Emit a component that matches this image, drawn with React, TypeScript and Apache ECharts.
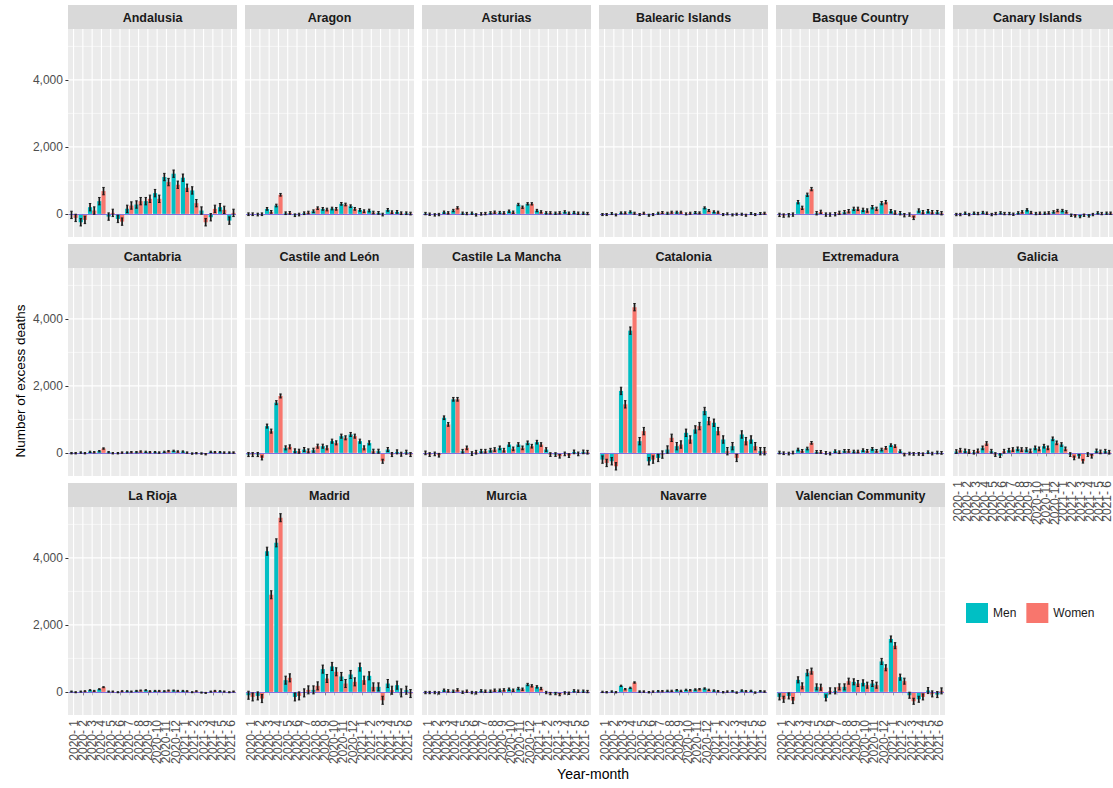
import React, { useEffect, useRef } from "react";
import * as echarts from "echarts";

// ---------- data ----------
const months = [
  "2020- 1", "2020- 2", "2020- 3", "2020- 4", "2020- 5", "2020- 6",
  "2020- 7", "2020- 8", "2020- 9", "2020-10", "2020-11", "2020-12",
  "2021- 1", "2021- 2", "2021- 3", "2021- 4", "2021- 5", "2021- 6",
];

const regions = [
  "Andalusia", "Aragon", "Asturias", "Balearic Islands", "Basque Country", "Canary Islands",
  "Cantabria", "Castile and León", "Castile La Mancha", "Catalonia", "Extremadura", "Galicia",
  "La Rioja", "Madrid", "Murcia", "Navarre", "Valencian Community",
];

const andalusiaMen = [-30, -250, 200, 380, -80, -150, 150, 280, 380, 620, 1100, 1200, 1080, 700, 100, -100, 200, -200];
const andalusiaWomen = [-120, -180, 100, 680, 30, -230, 250, 380, 450, 450, 950, 870, 780, 320, -250, 150, 120, 30];
const aragonMen = [-10, -20, 150, 250, 20, -40, 20, 80, 150, 160, 300, 230, 120, 100, 30, 120, 60, 20];
const aragonWomen = [-10, -10, 60, 570, 30, -20, 40, 170, 130, 150, 280, 150, 80, 40, -20, 50, 20, 10];
const asturiasMen = [10, -30, 50, 100, 20, 20, 0, 30, 40, 80, 280, 300, 100, 30, 20, 60, 40, 20];
const asturiasWomen = [-10, -20, 30, 180, 10, -30, 10, 50, 30, 50, 200, 300, 60, 30, 30, 20, 20, 10];
const balearicMen = [-20, 10, 30, 60, -20, -40, 20, 20, 50, 0, 40, 180, 60, -20, -30, -10, 10, 10];
const balearicWomen = [-20, -30, 30, 20, 20, -20, 40, 50, 50, 20, 30, 100, 50, 0, -10, -40, -20, 20];
const basqueMen = [-30, -40, 350, 570, 20, -20, -10, 50, 150, 120, 200, 320, 80, 20, -20, 100, 80, 50];
const basqueWomen = [-50, -20, 180, 740, 60, -20, 30, 80, 150, 100, 150, 350, 40, -40, -120, 50, 50, 20];
const canaryMen = [-20, 20, 20, 40, -20, 30, 10, 30, 120, 10, 20, 60, 100, -40, -80, -60, 30, 20];
const canaryWomen = [-20, -20, 10, 20, 10, 10, -10, 60, 40, 20, 30, 100, 60, -60, -40, -20, 10, 20];
const cantabriaMen = [-10, 10, 30, 50, 20, -10, 10, 20, 30, 20, 30, 60, 40, -20, -20, 30, 20, 10];
const cantabriaWomen = [-10, -10, 20, 130, -10, 10, 20, 40, 20, 10, 50, 40, 10, -10, -40, 20, 10, 10];
const castileLeonMen = [-50, -50, 800, 1500, 150, 60, 100, 80, 200, 350, 500, 550, 350, 300, 50, 100, 30, 20];
const castileLeonWomen = [-50, -150, 650, 1700, 180, 50, 60, 200, 150, 300, 450, 500, 150, 50, -250, -50, -40, -50];
const castileManchaMen = [0, -30, 1050, 1600, 50, -20, 50, 80, 150, 250, 250, 300, 320, 100, -50, -30, 30, 30];
const castileManchaWomen = [-50, -70, 850, 1600, 150, 20, 50, 100, 80, 120, 150, 200, 250, -50, -100, -80, -30, 20];
const cataloniaMen = [-200, -250, 1850, 3650, 350, -250, -150, 100, 200, 600, 700, 1250, 900, 400, 200, 550, 400, 50];
const cataloniaWomen = [-300, -400, 1450, 4350, 650, -200, -50, 450, 250, 400, 800, 950, 650, 50, -150, 350, 200, 50];
const extremaduraMen = [10, -20, 100, 130, 30, 0, 50, 60, 40, 80, 120, 100, 230, 50, -20, -30, 20, 10];
const extremaduraWomen = [-10, 10, 60, 300, 30, -20, 20, 60, 40, 60, 60, 150, 200, -50, -30, -40, -20, 0];
const galiciaMen = [40, 60, 20, 150, 50, -80, 80, 120, 100, 150, 200, 420, 250, -50, -100, -50, 60, 50];
const galiciaWomen = [80, 40, 60, 280, -50, 50, 100, 100, 60, 120, 150, 300, 120, -150, -250, -100, 30, 20];
const laRiojaMen = [10, 10, 50, 80, 10, -10, 20, 30, 50, 30, 20, 40, 30, -10, -20, 10, 20, -10];
const laRiojaWomen = [-10, 20, 30, 140, 10, 20, 10, 40, 20, 30, 40, 30, 20, 20, -30, 30, 10, 10];
const madridMen = [-100, -120, 4200, 4450, 350, -150, -30, 60, 680, 760, 460, 520, 740, 480, 150, 250, 200, 50];
const madridWomen = [-150, -200, 2900, 5200, 420, -120, 60, 180, 400, 600, 250, 300, 350, 150, -250, 50, -30, -50];
const murciaMen = [-20, -20, 50, 20, -10, -20, 30, 20, 50, 80, 100, 220, 150, -20, -50, -30, 30, 20];
const murciaWomen = [-20, -30, 30, 60, 20, -30, 20, 50, 60, 50, 80, 180, 100, -50, -80, -40, 20, 10];
const navarreMen = [0, 10, 180, 120, 10, -10, 20, 30, 50, 60, 70, 100, 40, -10, 20, 40, 30, 20];
const navarreWomen = [-10, -10, 80, 280, 10, 10, 20, 30, 30, 50, 80, 60, 20, 10, -20, 20, -20, 10];
const valenciaMen = [-150, -120, 360, 570, 150, -180, 30, 150, 300, 270, 250, 910, 1580, 440, -100, -220, 40, -80];
const valenciaWomen = [-220, -260, 180, 620, 140, 30, 150, 320, 250, 200, 200, 720, 1380, 320, -280, -150, -60, 30];

// half-width of the confidence interval drawn as error bars, per region
const errorHalfWidth = [110, 40, 35, 30, 50, 35, 20, 60, 55, 110, 40, 55, 15, 120, 35, 20, 90];

const yTickValues = [0, 2000, 4000];
const yMinorValues = [1000, 3000, 5000];
const legendLabels = ["Men", "Women"];

const menByRegion = [
  andalusiaMen, aragonMen, asturiasMen, balearicMen, basqueMen, canaryMen,
  cantabriaMen, castileLeonMen, castileManchaMen, cataloniaMen, extremaduraMen, galiciaMen,
  laRiojaMen, madridMen, murciaMen, navarreMen, valenciaMen,
];
const womenByRegion = [
  andalusiaWomen, aragonWomen, asturiasWomen, balearicWomen, basqueWomen, canaryWomen,
  cantabriaWomen, castileLeonWomen, castileManchaWomen, cataloniaWomen, extremaduraWomen, galiciaWomen,
  laRiojaWomen, madridWomen, murciaWomen, navarreWomen, valenciaWomen,
];

// ---------- style / layout ----------
const MEN_COLOR = "#00BFC4";
const WOMEN_COLOR = "#F8766D";
const ZERO_COLOR = "#8470DD";
const FONT = "'Liberation Sans', Arial, Helvetica, sans-serif";
const PANEL_W = 169;
const PANEL_H = 208;
const COL_STEP = 177;
const LEFT0 = 68;
const ROW_TOPS = [29, 268, 507];
const STRIP_H = 24;
const Y_MIN = -690;
const Y_MAX = 5520;
const NCOL = 6;

function buildOption() {
  const n = months.length;
  const unit = PANEL_W / (n - 1 + 1.2);
  const grids: any[] = [];
  const xAxes: any[] = [];
  const yAxes: any[] = [];
  const series: any[] = [];
  const graphics: any[] = [];

  regions.forEach((name, p) => {
    const r = Math.floor(p / NCOL);
    const c = p % NCOL;
    const left = LEFT0 + c * COL_STEP;
    const top = ROW_TOPS[r];
    const showX = p + NCOL >= regions.length; // bottom panel of its column
    const showY = c === 0;

    graphics.push({
      type: "rect",
      z: -10,
      silent: true,
      shape: { x: left, y: top, width: PANEL_W, height: PANEL_H },
      style: { fill: "#EBEBEB" },
    });
    graphics.push({
      type: "rect",
      z: -10,
      silent: true,
      shape: { x: left, y: top - STRIP_H, width: PANEL_W, height: STRIP_H },
      style: { fill: "#D9D9D9" },
    });
    graphics.push({
      type: "text",
      z: 5,
      silent: true,
      x: left + PANEL_W / 2,
      y: top - STRIP_H / 2 + 0.5,
      style: {
        text: name,
        align: "center",
        verticalAlign: "middle",
        fontSize: 12.5,
        fontWeight: "bold",
        fontFamily: FONT,
        fill: "#1A1A1A",
      },
    });

    grids.push({
      left: left + unit * 0.1,
      top,
      width: unit * n,
      height: PANEL_H,
      containLabel: false,
    });

    xAxes.push({
      gridIndex: p,
      type: "category",
      data: months,
      axisLine: { show: false },
      axisTick: {
        show: showX,
        alignWithLabel: true,
        interval: 0,
        length: 3.5,
        lineStyle: { color: "#333333", width: 1 },
      },
      axisLabel: {
        show: showX,
        rotate: 90,
        interval: 0,
        fontSize: 12,
        color: "#4D4D4D",
        fontFamily: FONT,
        margin: 5,
      },
      splitLine: { show: false },
    });

    yAxes.push({
      gridIndex: p,
      type: "value",
      min: Y_MIN,
      max: Y_MAX,
      axisLine: { show: false },
      axisTick: {
        show: showY,
        customValues: yTickValues,
        length: 3.5,
        lineStyle: { color: "#333333", width: 1 },
      },
      axisLabel: {
        show: showY,
        customValues: yTickValues,
        formatter: (v: number) => v.toLocaleString("en-US"),
        fontSize: 12,
        color: "#4D4D4D",
        fontFamily: FONT,
        margin: 6,
      },
      splitLine: { show: false },
    });

    // panel grid lines
    series.push({
      type: "custom",
      xAxisIndex: p,
      yAxisIndex: p,
      z: 1,
      silent: true,
      data: [[0, 0]],
      renderItem: (params: any, api: any) => {
        const cs = params.coordSys;
        const children: any[] = [];
        const x0 = left;
        const x1 = left + PANEL_W;
        yMinorValues.forEach((v) => {
          const y = api.coord([0, v])[1];
          children.push({
            type: "line",
            shape: { x1: x0, y1: y, x2: x1, y2: y },
            style: { stroke: "#FFFFFF", lineWidth: 0.55 },
          });
        });
        yTickValues.forEach((v) => {
          const y = api.coord([0, v])[1];
          children.push({
            type: "line",
            shape: { x1: x0, y1: y, x2: x1, y2: y },
            style: { stroke: "#FFFFFF", lineWidth: 1.1 },
          });
        });
        for (let i = 0; i < n; i++) {
          const x = api.coord([i, 0])[0];
          children.push({
            type: "line",
            shape: { x1: x, y1: cs.y, x2: x, y2: cs.y + cs.height },
            style: { stroke: "#FFFFFF", lineWidth: 1.1 },
          });
        }
        return { type: "group", children };
      },
    });

    const sexData = [menByRegion[p], womenByRegion[p]];
    sexData.forEach((vals, s) => {
      series.push({
        type: "bar",
        name: legendLabels[s],
        xAxisIndex: p,
        yAxisIndex: p,
        z: 2,
        barWidth: "45%",
        barGap: "0%",
        itemStyle: { color: s === 0 ? MEN_COLOR : WOMEN_COLOR },
        data: vals,
        ...(s === 1
          ? {
              markLine: {
                silent: true,
                symbol: "none",
                z: 3,
                label: { show: false },
                lineStyle: { color: ZERO_COLOR, width: 1.2, type: "solid" },
                data: [{ yAxis: 0 }],
              },
            }
          : {}),
      });
    });

    // error bars
    const errData: any[] = [];
    sexData.forEach((vals, s) => {
      vals.forEach((v, i) => {
        errData.push([i, v - errorHalfWidth[p], v + errorHalfWidth[p], s]);
      });
    });
    series.push({
      type: "custom",
      xAxisIndex: p,
      yAxisIndex: p,
      z: 4,
      silent: true,
      data: errData,
      encode: { x: 0, y: [1, 2] },
      renderItem: (params: any, api: any) => {
        const idx = api.value(0);
        const lo = api.value(1);
        const hi = api.value(2);
        const s = api.value(3);
        const band = api.size([1, 0])[0];
        const cx = api.coord([idx, 0])[0] + (s === 0 ? -0.225 : 0.225) * band;
        const yLo = api.coord([idx, lo])[1];
        const yHi = api.coord([idx, hi])[1];
        const half = 1.2;
        return {
          type: "group",
          children: [
            {
              type: "line",
              shape: { x1: cx, y1: yLo, x2: cx, y2: yHi },
              style: { stroke: "#1A1A1A", lineWidth: 1.7 },
            },
            {
              type: "line",
              shape: { x1: cx - half, y1: yLo, x2: cx + half, y2: yLo },
              style: { stroke: "#1A1A1A", lineWidth: 1 },
            },
            {
              type: "line",
              shape: { x1: cx - half, y1: yHi, x2: cx + half, y2: yHi },
              style: { stroke: "#1A1A1A", lineWidth: 1 },
            },
          ],
        };
      },
    });
  });

  graphics.push({
    type: "text",
    x: 20,
    y: 381,
    rotation: Math.PI / 2,
    silent: true,
    style: {
      text: "Number of excess deaths",
      align: "center",
      verticalAlign: "middle",
      fontSize: 13.5,
      fontFamily: FONT,
      fill: "#000000",
    },
  });
  graphics.push({
    type: "text",
    x: 593,
    y: 774,
    silent: true,
    style: {
      text: "Year-month",
      align: "center",
      verticalAlign: "middle",
      fontSize: 14,
      fontFamily: FONT,
      fill: "#000000",
    },
  });

  return {
    animation: false,
    backgroundColor: "#FFFFFF",
    textStyle: { fontFamily: FONT },
    grid: grids,
    xAxis: xAxes,
    yAxis: yAxes,
    series,
    graphic: { elements: graphics },
    legend: {
      data: legendLabels,
      left: 966,
      top: 603,
      padding: 0,
      orient: "horizontal",
      icon: "rect",
      itemWidth: 22,
      itemHeight: 20,
      itemGap: 10,
      selectedMode: false,
      textStyle: { fontSize: 12, color: "#1A1A1A", fontFamily: FONT },
    },
  };
}

export default function App() {
  const ref = useRef<HTMLDivElement | null>(null);
  useEffect(() => {
    document.body.style.margin = "0";
    if (!ref.current) return;
    const chart = echarts.init(ref.current, null, { renderer: "svg" });
    chart.setOption(buildOption() as any);
    return () => chart.dispose();
  }, []);
  return <div ref={ref} style={{ width: 1113, height: 788, overflow: "hidden" }} />;
}
